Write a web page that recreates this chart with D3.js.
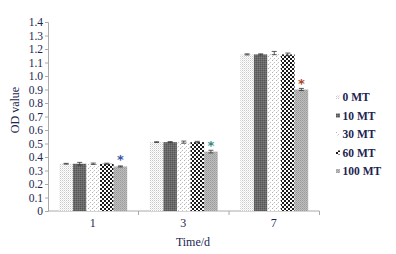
<!DOCTYPE html>
<html><head><meta charset="utf-8">
<script src="https://cdn.jsdelivr.net/npm/d3@7"></script>
<style>body{margin:0;background:#fff}svg{display:block}</style>
</head><body>
<script>
const categories = ["1", "3", "7"];
const series = ["0 MT", "10 MT", "30 MT", "60 MT", "100 MT"];
const values = [
  [0.35, 0.35, 0.35, 0.35, 0.33],
  [0.51, 0.51, 0.51, 0.51, 0.44],
  [1.16, 1.16, 1.17, 1.16, 0.90]
];
const errors = [
  [0.003, 0.01, 0.005, 0.004, 0.004],
  [0.003, 0.004, 0.008, 0.006, 0.01],
  [0.004, 0.004, 0.012, 0.01, 0.008]
];
const starColors = ["#3353a8", "#2f8a86", "#a8452e"];
const yTicks = [0,0.1,0.2,0.3,0.4,0.5,0.6,0.7,0.8,0.9,1.0,1.1,1.2,1.3,1.4];

const W = 396, H = 254;
const svg = d3.select("body").append("svg").attr("width", W).attr("height", H);
const defs = svg.append("defs");
function pat(id, size, bg, cells) {
  const p = defs.append("pattern").attr("id", id).attr("patternUnits", "userSpaceOnUse")
    .attr("width", size).attr("height", size);
  p.append("rect").attr("width", size).attr("height", size).attr("fill", bg);
  cells.forEach(c => p.append("rect").attr("x", c[0]).attr("y", c[1]).attr("width", c[2]).attr("height", c[2]).attr("fill", c[3]));
}
pat("p0", 2, "#ffffff", [[0,0,1,"#c8c8c8"],[1,1,1,"#e6e6e6"]]);
pat("p1", 2, "#6a6a6a", [[0,0,1,"#555"],[1,1,1,"#7a7a7a"]]);
pat("p2", 4, "#ffffff", [[0,0,1,"#b0b0b0"],[2,2,1,"#c0c0c0"],[1,3,1,"#e0e0e0"]]);
pat("p3", 4, "#ffffff", [[0,0,2,"#1a1a1a"],[2,2,2,"#1a1a1a"]]);
pat("p4", 2, "#bdbdbd", [[0,0,1,"#9a9a9a"],[1,1,1,"#a8a8a8"]]);
const fills = ["url(#p0)","url(#p1)","url(#p2)","url(#p3)","url(#p4)"];

const y = d3.scaleLinear().domain([0, 1.4]).range([211, 22]);
const x0 = d3.scaleBand().domain(categories).range([48, 319.5]).paddingInner(0.25).paddingOuter(0.125);
const x1 = d3.scaleBand().domain(series).range([0, x0.bandwidth()]);
const textColor = "#1c2450";
const font = "'Liberation Serif', 'DejaVu Serif', serif";

// y axis
const ya = svg.append("g").attr("transform", "translate(48,0)")
  .call(d3.axisLeft(y).tickValues(yTicks).tickSize(3).tickPadding(2)
    .tickFormat(d => d === 0 ? "0" : d3.format(".1f")(d)));
ya.select(".domain").attr("stroke", "#aaa");
ya.selectAll(".tick line").attr("stroke", "#aaa");
ya.selectAll("text").attr("font-family", font).attr("font-size", 11.5).attr("fill", textColor);

// x axis line and ticks
const xa = svg.append("g").attr("transform", "translate(0,211)");
xa.append("line").attr("x1", 48).attr("x2", 319.5).attr("stroke", "#aaa");
[48 + x0.step(), 48 + 2 * x0.step(), 48 + 3 * x0.step()].forEach(v =>
  xa.append("line").attr("x1", v).attr("x2", v).attr("y1", 0).attr("y2", 4).attr("stroke", "#aaa"));
categories.forEach(c => xa.append("text").attr("x", x0(c) + x0.bandwidth()/2 - 0.5).attr("y", 16)
  .attr("text-anchor", "middle").attr("font-family", font).attr("font-size", 12).attr("fill", textColor).text(c));

// bars
categories.forEach((c, ci) => {
  const g = svg.append("g");
  series.forEach((s, si) => {
    const v = values[ci][si];
    const bx = x0(c) + x1(s);
    g.append("rect").attr("x", bx).attr("y", y(v)).attr("width", x1.bandwidth()).attr("height", y(0) - y(v))
      .attr("fill", fills[si]);
    const cx = bx + x1.bandwidth()/2, e = errors[ci][si];
    g.append("line").attr("x1", cx).attr("x2", cx).attr("y1", y(v + e)).attr("y2", y(v - e)).attr("stroke", "#333").attr("stroke-width", 0.8);
    [v + e, v - e].forEach(t => g.append("line").attr("x1", cx - 2.5).attr("x2", cx + 2.5).attr("y1", y(t)).attr("y2", y(t)).attr("stroke", "#333").attr("stroke-width", 0.8));
  });
  const s = series[4];
  svg.append("text").attr("x", x0(c) + x1(s) + x1.bandwidth()/2).attr("y", y(values[ci][4]) - 2)
    .attr("text-anchor", "middle").attr("font-family", "'DejaVu Sans', sans-serif").attr("font-size", 13).attr("font-weight", "bold")
    .attr("fill", starColors[ci]).text("*");
});

// axis titles
svg.append("text").attr("transform", "translate(19,110) rotate(-90)").attr("text-anchor", "middle")
  .attr("font-family", font).attr("font-size", 12).attr("fill", textColor).text("OD value");
svg.append("text").attr("x", 193).attr("y", 246).attr("text-anchor", "middle")
  .attr("font-family", font).attr("font-size", 12).attr("fill", textColor).text("Time/d");

// legend
const lg = svg.append("g");
series.forEach((s, i) => {
  const ly = 97 + i * 18.5;
  lg.append("rect").attr("x", 336).attr("y", ly - 2).attr("width", 4).attr("height", 4).attr("fill", fills[i]);
  lg.append("text").attr("x", 342.5).attr("y", ly + 4).attr("font-family", font).attr("font-size", 11.5)
    .attr("font-weight", "bold").attr("fill", textColor).text(s);
});
</script>
</body></html>
